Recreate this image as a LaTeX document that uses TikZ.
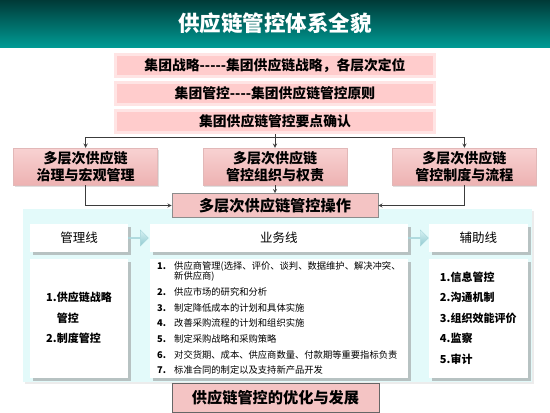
\documentclass[tikz,border=0pt]{standalone}
\usepackage{fontspec}
\setmainfont{Noto Sans CJK SC}
\usepackage{xcolor}
\definecolor{bannerTop}{HTML}{003A37}
\definecolor{bannerMid}{HTML}{00857F}
\definecolor{bannerBottom}{HTML}{009A94}
\definecolor{goalFill}{HTML}{FFCCCC}
\definecolor{goalEdge}{HTML}{FFE4E4}
\definecolor{pillarTop}{HTML}{F8D2D2}
\definecolor{pillarBottom}{HTML}{EDB2B2}
\definecolor{pillarEdge}{HTML}{E2B8B8}
\definecolor{opFill}{HTML}{F4C4C4}
\definecolor{panelFill}{HTML}{E3FAFA}
\definecolor{hintTop}{HTML}{D8F2F4}
\definecolor{hintBottom}{HTML}{8FC9CF}
\definecolor{connector}{HTML}{3C3C3C}
\usepackage{tikz}
\usetikzlibrary{%
    shapes.arrows,
    arrows,
    positioning,
    shadows
}
\newcommand{\bizno}[1]{\makebox[17pt][l]{\textbf{#1}}}

\begin{document}
\begin{tikzpicture}[x=1pt, y=-1pt, auto, node distance=6pt,
                banner/.style={rectangle, minimum width=550pt, minimum height=47pt, inner sep=0pt, top color=bannerTop, middle color=bannerMid, bottom color=bannerBottom, text=white, font=\bfseries\fontsize{21.5}{24}\selectfont},
                goal/.style={rectangle, minimum width=319pt, minimum height=22.5pt, inner sep=0pt, fill=goalFill, draw=goalEdge, line width=3pt, font=\bfseries\fontsize{13.8}{16}\selectfont},
                pillar/.style={rectangle, minimum width=144pt, minimum height=37pt, inner sep=0pt, top color=pillarTop, bottom color=pillarBottom, draw=pillarEdge, align=center, drop shadow={shadow xshift=1pt, shadow yshift=-1.5pt, fill=black!25}, font=\bfseries\fontsize{14}{17}\selectfont},
                operate/.style={rectangle, minimum width=206pt, minimum height=24pt, inner sep=0pt, fill=opFill, draw=black!45, line width=0.6pt, font=\bfseries\fontsize{15.2}{17}\selectfont},
                panel/.style={rectangle, minimum width=509pt, minimum height=173pt, inner sep=0pt, fill=panelFill, drop shadow={shadow xshift=2pt, shadow yshift=-2pt, fill=black!15}},
                header/.style={rectangle, minimum height=28.5pt, inner sep=0pt, fill=white, drop shadow={shadow xshift=3pt, shadow yshift=-3pt, fill=black!45}, font=\fontsize{12.5}{14}\selectfont},
                content/.style={rectangle, minimum height=119pt, inner sep=0pt, fill=white, align=left, drop shadow={shadow xshift=3pt, shadow yshift=-3pt, fill=black!45}},
                hint/.style={single arrow, minimum height=20pt, minimum width=16pt, single arrow head extend=2.5pt, inner sep=0pt, top color=hintTop, bottom color=hintBottom, draw=hintBottom!80},
                result/.style={rectangle, minimum width=207pt, minimum height=29pt, inner sep=0pt, fill=opFill, draw=black!60, line width=1pt, font=\bfseries\fontsize{15.2}{17}\selectfont},
                flow/.style={draw=connector, line width=0.9pt, ->, >=stealth},
                link/.style={draw=connector, line width=0.9pt}
            ]
            \useasboundingbox (0,0) rectangle (550,413);

            \node (banner) at (275,23.5) [banner] {供应链管控体系全貌};

            % cyan panel behind the three lines
            \node (panel) at (277.5,295.5) [panel] {};

            \node (strategy) at (275,65.3) [goal] {集团战略-{}-{}-{}-{}-集团供应链战略，各层次定位};
            \node (principle) [goal, below=2.7pt of strategy] {集团管控-{}-{}-{}-集团供应链管控原则};
            \node (confirm) [goal, below=2.7pt of principle] {集团供应链管控要点确认};

            \node (org) at (275,166.5) [pillar] {多层次供应链\\管控组织与权责};
            \node (gov) [pillar, left=45pt of org] {多层次供应链\\治理与宏观管理};
            \node (rules) [pillar, right=45pt of org] {多层次供应链\\管控制度与流程};

            \node (op) [operate, below=8pt of org] {多层次供应链管控操作};

            \node (mgmt) at (79,238) [header, minimum width=98pt] {管理线};
            \node (hintA) [hint, right=0pt of mgmt] {};
            \node (biz) [header, minimum width=258pt, right=1pt of hintA] {业务线};
            \node (hintB) [hint, right=0pt of biz] {};
            \node (aux) [header, minimum width=99pt, right=0pt of hintB] {辅助线};

            \node (mgmtbox) [content, minimum width=98pt, below=6pt of mgmt, font=\bfseries\fontsize{11}{20.5}\selectfont] {1.供应链战略\\\phantom{1.}管控\\2.制度管控};
            \node (bizbox) [content, minimum width=258pt, below=6pt of biz, font=\fontsize{9.3}{10.3}\selectfont] {%
                \bizno{1.}供应商管理(选择、评价、谈判、数据维护、解决冲突、\\
                \bizno{}新供应商)\\[5.4pt]
                \bizno{2.}供应市场的研究和分析\\[5.4pt]
                \bizno{3.}制定降低成本的计划和具体实施\\[5.4pt]
                \bizno{4.}改善采购流程的计划和组织实施\\[5.4pt]
                \bizno{5.}制定采购战略和采购策略\\[5.4pt]
                \bizno{6.}对交货期、成本、供应商数量、付款期等重要指标负责\\[5.4pt]
                \bizno{7.}标准合同的制定以及支持新产品开发};
            \node (auxbox) [content, minimum width=99pt, below=6pt of aux, font=\bfseries\fontsize{11}{20.5}\selectfont] {1.信息管控\\2.沟通机制\\3.组织效能评价\\4.监察\\5.审计};

            \node (outcome) at (275.5,397.5) [result] {供应链管控的优化与发展};

            % connectors
            \coordinate (split) at (275,137);
            \draw[link] (confirm.south) -- (split);
            \draw[flow] (split) -| (gov.north);
            \draw[flow] (split) -- (org.north);
            \draw[flow] (split) -| (rules.north);
            \draw[flow] (gov.south) |- (op.west);
            \draw[flow] (rules.south) |- (op.east);
            \draw[flow] (org.south) -- (op.north);
        \end{tikzpicture}
\end{document}
